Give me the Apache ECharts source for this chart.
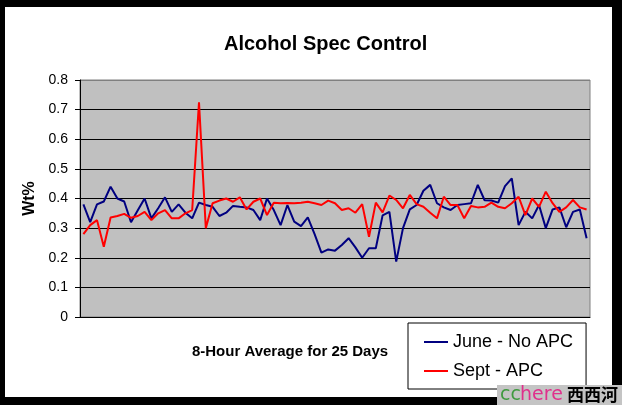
<!DOCTYPE html>
<html>
<head>
<meta charset="utf-8">
<script src="https://cdn.jsdelivr.net/npm/echarts@6/dist/echarts.min.js"></script>
<style>
html,body{margin:0;padding:0;background:#000;}
#chart{width:622px;height:405px;}
</style>
</head>
<body>
<div id="chart"></div>
<script>
const titleText = 'Alcohol Spec Control';
const yAxisTitle = 'Wt%';
const xAxisTitle = '8-Hour Average for 25 Days';
const seriesNames = ['June - No APC', 'Sept - APC'];
const yTicks = [0, 0.1, 0.2, 0.3, 0.4, 0.5, 0.6, 0.7, 0.8];

// 75 eight-hour periods (25 days x 3)
const categories = Array.from({length: 75}, (_, i) => String(i + 1));

const juneNoAPC = [
  0.38, 0.32, 0.38, 0.39, 0.44, 0.40, 0.39, 0.32, 0.36, 0.40,
  0.333, 0.367, 0.404, 0.355, 0.38, 0.352, 0.333, 0.386, 0.378, 0.372,
  0.341, 0.352, 0.375, 0.372, 0.37, 0.361, 0.327, 0.40, 0.361, 0.31,
  0.378, 0.322, 0.307, 0.336, 0.28, 0.217, 0.228, 0.224, 0.243, 0.266,
  0.235, 0.20, 0.232, 0.232, 0.343, 0.355, 0.187, 0.30, 0.363, 0.378,
  0.426, 0.446, 0.384, 0.37, 0.361, 0.378, 0.381, 0.384, 0.446, 0.394,
  0.393, 0.386, 0.442, 0.468, 0.31, 0.355, 0.333, 0.378, 0.30, 0.363,
  0.37, 0.303, 0.355, 0.363, 0.266
];

const septAPC = [
  0.28, 0.31, 0.327, 0.237, 0.336, 0.341, 0.348, 0.335, 0.341, 0.355,
  0.327, 0.35, 0.361, 0.333, 0.333, 0.35, 0.361, 0.725, 0.30, 0.384,
  0.393, 0.40, 0.389, 0.404, 0.363, 0.389, 0.40, 0.344, 0.386, 0.384,
  0.385, 0.384, 0.386, 0.389, 0.384, 0.378, 0.393, 0.384, 0.361, 0.367,
  0.352, 0.381, 0.271, 0.386, 0.353, 0.41, 0.395, 0.367, 0.412, 0.381,
  0.372, 0.352, 0.333, 0.406, 0.378, 0.378, 0.333, 0.375, 0.37, 0.372,
  0.386, 0.372, 0.367, 0.384, 0.406, 0.344, 0.40, 0.372, 0.423, 0.384,
  0.355, 0.37, 0.395, 0.37, 0.363
];

const FONT = "'Liberation Sans', Arial, sans-serif";
const chart = echarts.init(document.getElementById('chart'), null, {renderer: 'canvas'});

chart.setOption({
  backgroundColor: '#ffffff',
  animation: false,
  title: {
    text: titleText,
    left: 224,
    top: 34,
    padding: 0,
    textStyle: {fontFamily: FONT, fontSize: 20, fontWeight: 'bold', color: '#000'}
  },
  grid: {
    left: 80, right: 32, top: 80, bottom: 88,
    show: true,
    backgroundColor: '#C0C0C0',
    borderColor: '#808080',
    borderWidth: 1,
    containLabel: false
  },
  legend: {
    data: seriesNames,
    orient: 'vertical',
    left: 408,
    top: 323,
    icon: 'rect',
    itemWidth: 24,
    itemHeight: 2,
    itemGap: 11,
    padding: [10, 13, 9, 16],
    backgroundColor: '#ffffff',
    borderColor: '#000000',
    borderWidth: 1,
    textStyle: {fontFamily: FONT, fontSize: 18, color: '#000'}
  },
  xAxis: {
    type: 'category',
    data: categories,
    boundaryGap: true,
    name: xAxisTitle,
    nameLocation: 'middle',
    nameGap: 27,
    nameTextStyle: {fontFamily: FONT, fontSize: 15, fontWeight: 'bold', color: '#000', padding: [0, 90, 0, 0]},
    axisLine: {show: true, lineStyle: {color: '#000', width: 1}},
    axisTick: {show: false},
    axisLabel: {show: false},
    splitLine: {show: false}
  },
  yAxis: {
    type: 'value',
    min: yTicks[0],
    max: yTicks[yTicks.length - 1],
    interval: 0.1,
    name: yAxisTitle,
    nameLocation: 'middle',
    nameGap: 42,
    nameTextStyle: {fontFamily: FONT, fontSize: 16, fontWeight: 'bold', color: '#000'},
    axisLine: {show: true, lineStyle: {color: '#000', width: 1}},
    axisTick: {show: true, length: 5, lineStyle: {color: '#000'}},
    axisLabel: {
      fontFamily: FONT, fontSize: 14, color: '#000', margin: 12,
      formatter: v => String(Math.round(v * 10) / 10)
    },
    splitLine: {
      show: true,
      lineStyle: {color: ['#000', '#000', '#000', '#000', '#000', '#000', '#000', '#000', '#808080'], width: 1}
    }
  },
  series: [
    {
      name: seriesNames[0],
      type: 'line',
      data: juneNoAPC,
      showSymbol: false,
      symbol: 'none',
      color: '#000080',
      lineStyle: {color: '#000080', width: 2}
    },
    {
      name: seriesNames[1],
      type: 'line',
      data: septAPC,
      showSymbol: false,
      symbol: 'none',
      color: '#FF0000',
      lineStyle: {color: '#FF0000', width: 2}
    }
  ],
  graphic: [
    {type: 'rect', silent: true, z: 100, shape: {x: 0, y: 0, width: 622, height: 7}, style: {fill: '#000'}},
    {type: 'rect', silent: true, z: 100, shape: {x: 0, y: 0, width: 5, height: 405}, style: {fill: '#000'}},
    {type: 'rect', silent: true, z: 100, shape: {x: 612, y: 0, width: 10, height: 405}, style: {fill: '#000'}},
    {type: 'rect', silent: true, z: 100, shape: {x: 0, y: 397, width: 622, height: 8}, style: {fill: '#000'}},
    {type: 'rect', silent: true, z: 101, shape: {x: 497, y: 385, width: 125, height: 20}, style: {fill: '#c4c4c4'}},
    {type: 'text', silent: true, z: 102, x: 500, y: 395, style: {text: 'cc', fill: '#3f9a3f', font: "19px 'DejaVu Sans', sans-serif", verticalAlign: 'middle'}},
    {type: 'text', silent: true, z: 102, x: 520, y: 395, style: {text: 'here', fill: '#e0308c', font: "19px 'DejaVu Sans', sans-serif", verticalAlign: 'middle'}},
    {type: 'text', silent: true, z: 102, x: 567, y: 395, style: {text: '西西河', fill: '#000', font: "bold 17px 'Noto Sans CJK SC', sans-serif", verticalAlign: 'middle'}}
  ]
});
</script>
</body>
</html>
